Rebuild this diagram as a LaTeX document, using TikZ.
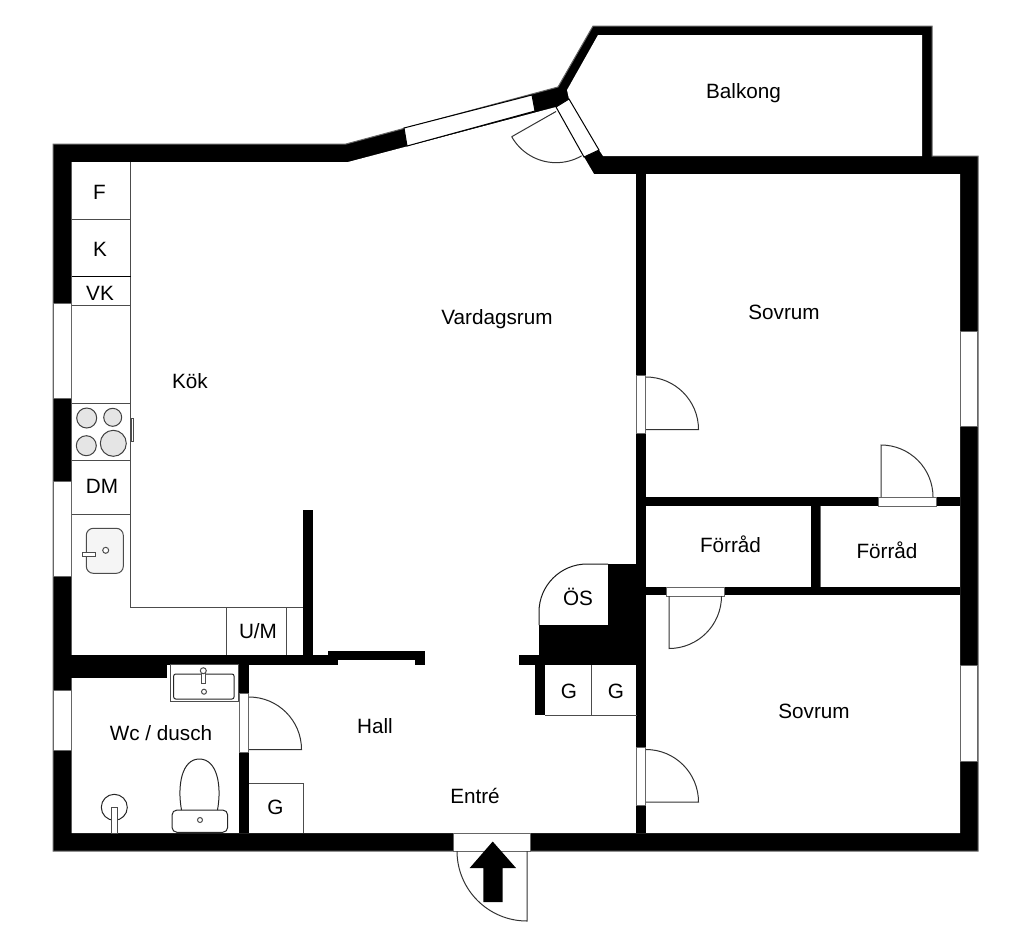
\documentclass[tikz,border=0pt]{standalone}
\usepackage{fontspec}
\setmainfont{Liberation Sans}
\tikzset{
  wall/.style={fill=black},
  room/.style={fill=white},
  opening/.style={draw=black!60,fill=white,line width=1pt},
  doorleaf/.style={draw=black!80,line width=1pt},
  fitting/.style={draw=black!70,line width=1pt},
  hob/.style={draw=black!75,fill=black!10,line width=1pt},
  lab/.style={inner sep=0pt,font=\fontsize{20.7}{24}\selectfont}
}
\begin{document}
\begin{tikzpicture}[x=1pt,y=-1pt]
\useasboundingbox (0,0) rectangle (1024,940);
% outer walls, then the rooms cut out of them
\filldraw[wall,draw=black!60,line width=1pt] (53,144)--(346,144)--(558,87)--(593,26)--(932,26)--(932,156)--(978,156)--(978,851)--(53,851)--cycle;
\fill[room] (598,35)--(922,35)--(922,156)--(603,156)--(599,150)--(569,99)--(567,90)--cycle;
\fill[room] (71.5,162)--(348,162)--(556,107)--(584,157)--(594,174)--(960,174)--(960,833)--(71.5,833)--cycle;
% inner walls
\fill[wall] (636,174) rectangle (646,833);
\fill[wall] (646,497) rectangle (960,505.5);
\fill[wall] (646,587) rectangle (960,595);
\fill[wall] (811,505) rectangle (819.5,587);
\fill[wall] (302.5,510) rectangle (312.5,656);
\fill[wall] (71,655) rectangle (167,678);
\fill[wall] (167,655) rectangle (337.5,664.5);
\fill[wall] (328,650.5) rectangle (425,660);
\fill[wall] (415,655) rectangle (425,665);
\fill[wall] (239,664) rectangle (249,833);
\fill[wall] (519,655) rectangle (636,665);
\fill[wall] (535,665) rectangle (545,715);
\fill[wall] (539,625) rectangle (636,655);
\fill[wall] (608,564) rectangle (636,625);
\draw[fitting,black!60] (820,505.5)--(820,587);
% windows
\draw[opening] (53,303) rectangle (71,398.5);
\draw[opening] (53,481) rectangle (71,576);
\draw[opening] (53,690) rectangle (71,750);
\draw[opening] (960,331) rectangle (977.5,426.5);
\draw[opening] (960,665) rectangle (977.5,761);
\draw[opening,draw=black] (404,128)--(532,95)--(535,111)--(407,146)--cycle;
% door openings
\draw[opening,draw=black] (556,107)--(569,99)--(599,150)--(584,157)--cycle;
\draw[opening] (636.5,375) rectangle (645.5,433);
\draw[opening] (636.5,747) rectangle (645.5,805);
\draw[opening] (878,497.5) rectangle (936,506);
\draw[opening] (666,587) rectangle (724.5,596);
\draw[opening] (239,693) rectangle (248,752.5);
\draw[opening] (453.5,833) rectangle (530.5,851);
% door leaves
\draw[doorleaf] (511.7,136.7) arc (150.6:60:51);
\draw[doorleaf] (511.7,136.7)--(556,111.5);
\draw[doorleaf] (646,377) arc (-90:0:52.5)--(646,429.5);
\draw[doorleaf] (646,749.5) arc (-90:0:52.5)--(646,802);
\draw[doorleaf] (881,497) --(881,445) arc (-90:0:52);
\draw[doorleaf] (721.5,596) arc (0:90:52.5)--(669,596);
\draw[doorleaf] (249,697) arc (-90:0:52.5)--(249,749.5);
\draw[doorleaf] (457,851) arc (180:90:70)--(527,851);
\fill (492.7,841.5)--(516,868)--(502.7,868)--(502.7,902)--(483.3,902)--(483.3,868)--(469.7,868)--cycle;
% kitchen fittings
\draw[fitting] (130.5,162)--(130.5,607)--(302.5,607);
\draw[fitting] (71.5,219.7)--(130.5,219.7);
\draw[fitting,black] (71.5,276.3)--(130.5,276.3);
\draw[fitting] (71.5,305.7)--(130.5,305.7);
\draw[fitting] (71.5,403.7)--(130.5,403.7);
\draw[fitting] (71.5,460)--(130.5,460);
\draw[fitting] (71.5,514)--(130.5,514);
\draw[fitting] (131,418) rectangle (133.5,441);
\draw[hob] (86.7,418) circle (10);
\draw[hob] (112.7,417.3) circle (9);
\draw[hob] (86.3,445.7) circle (10);
\draw[hob] (113.3,443.3) circle (13);
\filldraw[fitting,fill=black!4,rounded corners=7pt] (86.3,528.3) rectangle (123.3,573.3);
\filldraw[fitting,fill=white] (82.7,552.7) rectangle (95.7,556.7);
\filldraw[fitting,fill=white] (105.7,550.3) circle (3);
\draw[fitting] (226.3,607)--(226.3,655);
\draw[fitting] (286.7,607)--(286.7,655);
% closets
\draw[fitting] (249,783)--(303,783)--(303,833);
\draw[fitting] (545,715)--(637,715);
\draw[fitting] (591.3,665)--(591.3,715);
\draw[line width=1pt,black!90] (539,625)--(539,612) arc (180:270:48)--(608,564);
% bath fittings
\draw[fitting] (170,664.5) rectangle (238,701);
\draw[fitting,black!85,rounded corners=2pt] (173.7,674) rectangle (234,699);
\filldraw[fitting,fill=white] (201.3,672.7) rectangle (205.7,683);
\filldraw[fitting,fill=white] (203.3,670.7) circle (3);
\draw[fitting] (204,691.7) circle (2.5);
\draw[fitting,black!85] (181.5,810) .. controls (177,785) and (182,759) .. (199.3,759) .. controls (217,759) and (222,785) .. (217.5,810);
\draw[fitting,black!85,rounded corners=5pt] (172,810) rectangle (227.7,832.3);
\draw[fitting] (200,820) circle (2.5);
\draw[fitting,black!85] (114.3,807.3) circle (13);
\filldraw[fitting,fill=white] (111.7,807.7) rectangle (117.3,833);
% labels
\node[lab] (balkong) at (743.5,93) {Balkong};
\node[lab] (frys) at (99.5,192) {F};
\node[lab] (kyl) at (100,249) {K};
\node[lab] (vk) at (100,293) {VK};
\node[lab] (kok) at (190,381) {Kök};
\node[lab] (vardagsrum) at (497,319) {Vardagsrum};
\node[lab] (sovrumA) at (784,312.5) {Sovrum};
\node[lab] (dm) at (102,486) {DM};
\node[lab] (forradA) at (730.5,544.5) {Förråd};
\node[lab] (forradB) at (887,550.5) {Förråd};
\node[lab] (os) at (578,597) {ÖS};
\node[lab] (um) at (258,631) {U/M};
\node[lab] (gA) at (569,691) {G};
\node[lab] (gB) at (616,691) {G};
\node[lab] (sovrumB) at (814,711) {Sovrum};
\node[lab] (hall) at (375,726) {Hall};
\node[lab] (wc) at (161,733) {Wc / dusch};
\node[lab] (entre) at (475,795.5) {Entré};
\node[lab] (gC) at (275.5,807.5) {G};
\end{tikzpicture}
\end{document}
